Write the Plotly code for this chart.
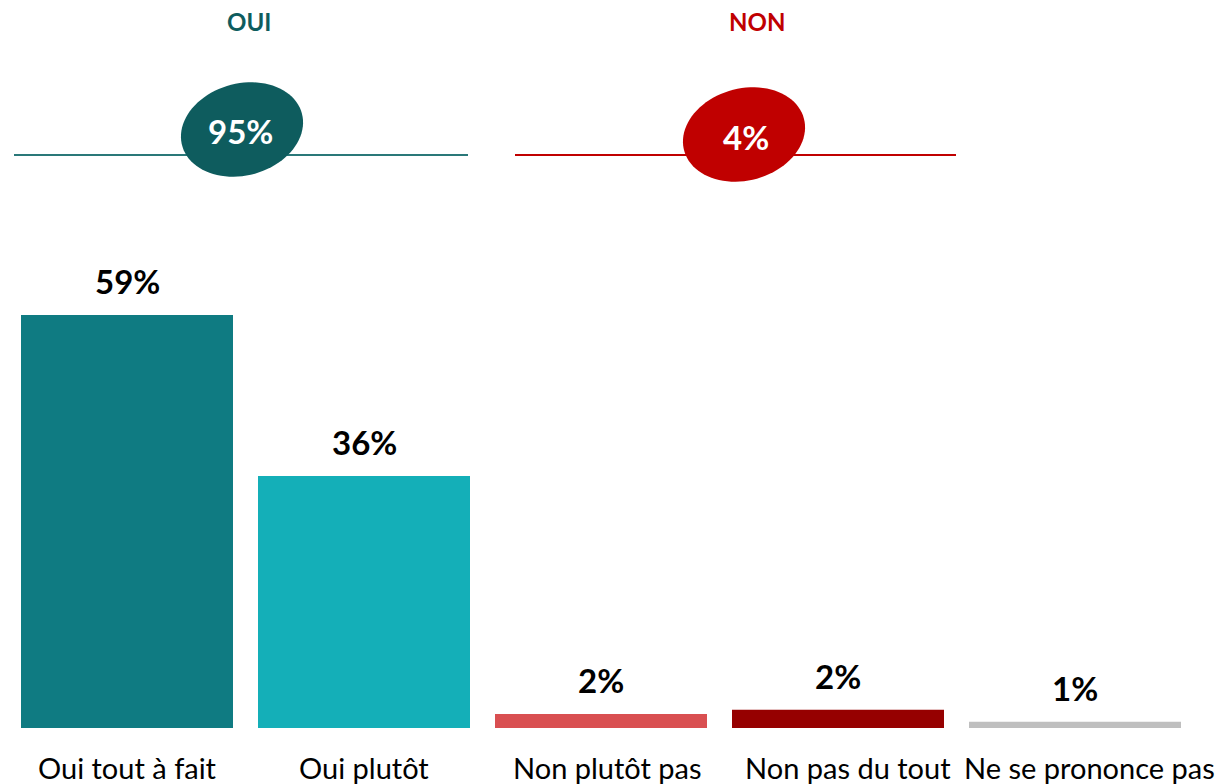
import numpy as np
import plotly.graph_objects as go

# ---- data ----
categories = ["Oui tout à fait", "Oui plutôt", "Non plutôt pas", "Non pas du tout", "Ne se prononce pas"]
values = [59, 36, 2.0, 2.6, 0.9]
value_labels = ["59%", "36%", "2%", "2%", "1%"]
bar_colors = ["#0F7B82", "#14AFB8", "#D94F51", "#960000", "#BFBFBF"]

group_names = ["OUI", "NON"]
group_totals = ["95%", "4%"]
group_colors = ["#0E5C5E", "#C00000"]
group_line_colors = ["#2A7879", "#C00000"]

W, H = 1227, 784


def px(x):
    return x / W


def py(y):
    return 1 - y / H


fig = go.Figure()
fig.add_trace(go.Bar(
    x=categories, y=values,
    marker=dict(color=bar_colors, line=dict(width=0)),
    hoverinfo="skip",
))

# layout geometry (pixel-based)
pitch = 237
x_left = 127 - pitch / 2
x_right = x_left + pitch * 5
baseline = 728
per_unit = 7.0
y_max = 70
y_top = baseline - per_unit * y_max

fig.update_layout(
    width=W, height=H,
    margin=dict(l=0, r=0, t=0, b=0),
    paper_bgcolor="white", plot_bgcolor="white",
    showlegend=False,
    bargap=25 / pitch,
    xaxis=dict(domain=[px(x_left), px(x_right)], range=[-0.5, 4.5],
               showticklabels=False, showgrid=False, zeroline=False, showline=False),
    yaxis=dict(domain=[py(baseline), py(y_top)], range=[0, y_max],
               showticklabels=False, showgrid=False, zeroline=False, showline=False),
    font=dict(family="Lato, sans-serif", color="black"),
)

annotations = []
# value labels
for c, v, lab in zip(categories, values, value_labels):
    annotations.append(dict(x=c, y=v, xref="x", yref="y", text=f"<b>{lab}</b>",
                            showarrow=False, xanchor="center", yanchor="middle", yshift=34,
                            font=dict(size=33, color="black", family="Lato")))
# category labels
label_shift = [0, 0, 6, 10, 14]
for c, s in zip(categories, label_shift):
    annotations.append(dict(x=c, y=py(767), xref="x", yref="paper", text=c,
                            showarrow=False, xanchor="center", yanchor="middle", xshift=s,
                            font=dict(size=29, color="black", family="Lato")))

# group headers, lines, ellipses
group_spans = [(14, 468), (515, 956)]
header_x = [249, 757]
ellipse_c = [(242, 129.5), (744, 134.5)]
text_c = [(240, 131), (746, 137)]
shapes = []
a_ax, b_ax, theta = 62, 46, np.deg2rad(15)
t = np.linspace(0, 2 * np.pi, 90)
for i in range(2):
    annotations.append(dict(x=px(header_x[i]), y=py(22), xref="paper", yref="paper",
                            text=f"<b>{group_names[i]}</b>", showarrow=False,
                            xanchor="center", yanchor="middle",
                            font=dict(size=24, color=group_colors[i], family="Lato")))
    x0, x1 = group_spans[i]
    shapes.append(dict(type="line", xref="paper", yref="paper",
                       x0=px(x0), x1=px(x1), y0=py(155), y1=py(155),
                       line=dict(color=group_line_colors[i], width=2)))
    cx, cy = ellipse_c[i]
    ex = cx + a_ax * np.cos(t) * np.cos(theta) + b_ax * np.sin(t) * np.sin(theta)
    ey = cy - a_ax * np.cos(t) * np.sin(theta) + b_ax * np.sin(t) * np.cos(theta)
    path = "M " + " L ".join(f"{px(xx):.5f},{py(yy):.5f}" for xx, yy in zip(ex, ey)) + " Z"
    shapes.append(dict(type="path", xref="paper", yref="paper", path=path,
                       fillcolor=group_colors[i], line=dict(width=0)))
    tx, ty = text_c[i]
    annotations.append(dict(x=px(tx), y=py(ty), xref="paper", yref="paper",
                            text=f"<b>{group_totals[i]}</b>", showarrow=False,
                            xanchor="center", yanchor="middle",
                            font=dict(size=33, color="white", family="Lato")))

fig.update_layout(annotations=annotations, shapes=shapes)
fig.write_html("out.html", config={"displayModeBar": False})

# remove default body margin so the figure sits at the page origin
with open("out.html", "r", encoding="utf-8") as f:
    html = f.read()
html = html.replace("<body>", '<body style="margin:0;padding:0;overflow:hidden">', 1)
with open("out.html", "w", encoding="utf-8") as f:
    f.write(html)
